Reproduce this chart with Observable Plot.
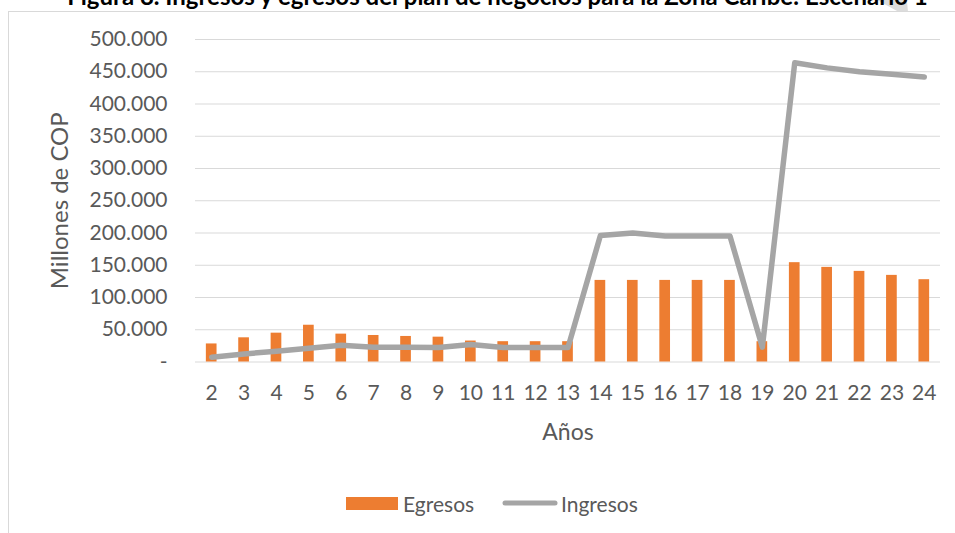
<!DOCTYPE html>
<html>
<head>
<meta charset="utf-8">
<script src="https://cdn.jsdelivr.net/npm/d3@7"></script>
<script src="https://cdn.jsdelivr.net/npm/@observablehq/plot@0.6"></script>
<style>
  html, body { margin: 0; padding: 0; background: #fff; }
  body { width: 955px; height: 533px; position: relative; overflow: hidden; font-family: Lato, "Open Sans", sans-serif; }
  #title { position: absolute; left: 0; width: 995px; top: -19px; text-align: center; font-weight: bold; font-size: 24px; color: #000; white-space: nowrap; }
  #frame { position: absolute; left: 8px; top: 11px; width: 1000px; height: 600px; border: 1px solid #d9d9d9; box-sizing: border-box; }
  #chart { position: absolute; left: 0; top: 0; }
  #curl { position: absolute; left: 875px; top: 0; width: 35px; height: 11px; background: #dcdcdc; clip-path: polygon(6% 0, 91% 0, 94% 100%, 63% 100%); }
  .leg { position: absolute; top: 490px; height: 26px; display: flex; align-items: center; font-size: 21px; color: #595959; }
</style>
</head>
<body>
<div id="frame"></div>
<div id="curl"></div>
<div id="title">Figura 8. Ingresos y egresos del plan de negocios para la Zona Caribe: Escenario 1</div>
<div id="chart"></div>
<div class="leg" style="left:346px"><span style="display:inline-block;width:52px;height:13px;background:#ED7D31;margin-right:5px"></span>Egresos</div>
<div class="leg" style="left:502px"><svg width="56" height="10" style="margin-right:3px"><line x1="3" y1="5" x2="53" y2="5" stroke="#A5A5A5" stroke-width="5" stroke-linecap="round"/></svg>Ingresos</div>
<script>
const years = [2,3,4,5,6,7,8,9,10,11,12,13,14,15,16,17,18,19,20,21,22,23,24];
const egresos = [28000,37500,44700,57000,43200,41100,39600,38500,32500,31500,31500,31500,126500,126500,126500,126500,126500,31500,154000,146700,140500,134300,127600];
const ingresos = [7500,12500,16800,21400,26000,23000,23000,22500,27200,22500,22500,22500,196000,200000,195500,195500,195500,23000,464000,456000,450000,446000,442000];
const yTicks = [0,50000,100000,150000,200000,250000,300000,350000,400000,450000,500000];

const data = years.map((y, i) => ({year: y, egresos: egresos[i], ingresos: ingresos[i]}));
const fmt = v => v === 0 ? "-" : d3.format(",")(v).replace(/,/g, ".");

const chart = Plot.plot({
  width: 955,
  height: 533,
  marginTop: 39,
  marginBottom: 171.5,
  marginLeft: 195,
  marginRight: 15,
  style: {fontFamily: "Lato, 'Open Sans', sans-serif", fontSize: "21px", color: "#595959", background: "transparent"},
  x: {type: "band", domain: years, paddingInner: 0.67, paddingOuter: 0.335, round: false},
  y: {domain: [0, 500000]},
  marks: [
    Plot.gridY(yTicks, {stroke: "#d9d9d9", strokeOpacity: 1, strokeWidth: 1}),
    Plot.barY(data, {x: "year", y: "egresos", fill: "#ED7D31"}),
    Plot.lineY(data, {x: "year", y: "ingresos", stroke: "#A5A5A5", strokeWidth: 5.5, strokeLinejoin: "round", strokeLinecap: "round"}),
    Plot.axisY(yTicks, {tickSize: 0, tickPadding: 28, tickFormat: fmt, label: null, fill: "#595959"}),
    Plot.axisX({tickSize: 0, tickPadding: 23, label: null, fill: "#595959"}),
    Plot.text(["Años"], {frameAnchor: "bottom", dy: 78, fontSize: 23, fill: "#595959"}),
    Plot.text(["Millones de COP"], {frameAnchor: "left", dx: -135, rotate: -90, textAnchor: "middle", fontSize: 24, fill: "#595959"})
  ]
});
document.getElementById("chart").appendChild(chart);
</script>
</body>
</html>
